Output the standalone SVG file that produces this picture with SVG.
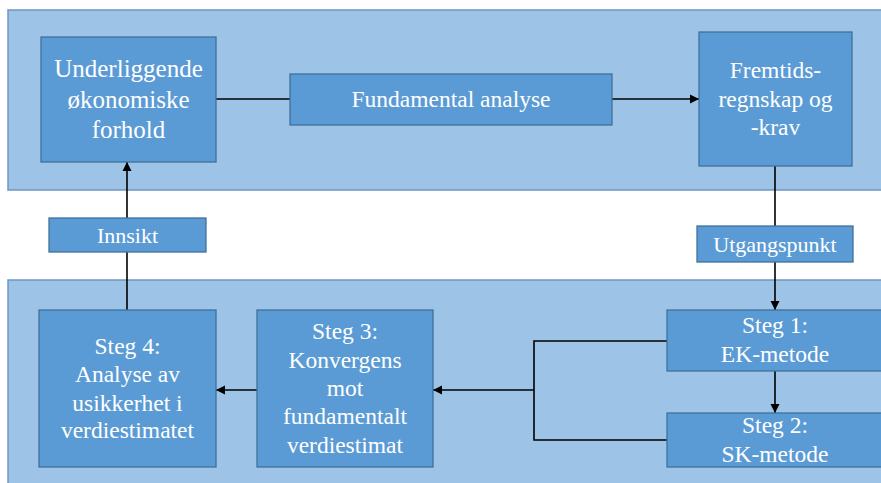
<svg xmlns="http://www.w3.org/2000/svg" width="881" height="483" viewBox="0 0 881 483">
  <defs>
    <marker id="arrow" markerWidth="10" markerHeight="10" refX="9" refY="5" orient="auto" markerUnits="userSpaceOnUse">
      <path d="M0,0.5 L9,5 L0,9.5 Z" fill="#000"/>
    </marker>
    <style>
      .panel { fill: #9DC3E6; stroke: #6F96C4; stroke-width: 1.5; }
      .box { fill: #5B9BD5; stroke: #41719C; stroke-width: 1.3; }
      .txt { fill: #FFFFFF; font-size: 23.5px; text-anchor: middle; }
      .big { font-size: 25px; }
      .lbl { font-size: 22px; }
      .con { fill: none; stroke: #000; stroke-width: 1.6; }
    </style>
  </defs>

  <!-- background panels -->
  <rect class="panel" x="8" y="10" width="880" height="180"/>
  <rect class="panel" x="8" y="280" width="880" height="210"/>

  <!-- connectors -->
  <g id="connectors">
    <line class="con" x1="216" y1="99" x2="290" y2="99"/>
    <line class="con" x1="612" y1="99" x2="699" y2="99" marker-end="url(#arrow)"/>
    <line class="con" x1="775" y1="166" x2="775" y2="226"/>
    <line class="con" x1="775" y1="262" x2="775" y2="310" marker-end="url(#arrow)"/>
    <line class="con" x1="775" y1="371" x2="775" y2="413" marker-end="url(#arrow)"/>
    <polyline class="con" points="667,341 534,341 534,440 667,440"/>
    <line class="con" x1="534" y1="390" x2="433" y2="390" marker-end="url(#arrow)"/>
    <line class="con" x1="257" y1="390" x2="216" y2="390" marker-end="url(#arrow)"/>
    <line class="con" x1="127" y1="310" x2="127" y2="252"/>
    <line class="con" x1="127" y1="218" x2="127" y2="162" marker-end="url(#arrow)"/>
  </g>

  <g font-family="Liberation Serif, Tinos, Times New Roman, DejaVu Serif, serif">
  <g id="underliggende">
    <rect class="box" x="41" y="37" width="175" height="125"/>
    <text class="txt big" x="128.5" y="77">Underliggende</text>
    <text class="txt big" x="128.5" y="108">økonomiske</text>
    <text class="txt big" x="128.5" y="138">forhold</text>
  </g>

  <g id="fundamental">
    <rect class="box" x="290" y="74" width="322" height="51"/>
    <text class="txt" x="451" y="107">Fundamental analyse</text>
  </g>

  <g id="fremtid">
    <rect class="box" x="699" y="32" width="153" height="134"/>
    <text class="txt" x="775.5" y="78">Fremtids-</text>
    <text class="txt" x="775.5" y="107">regnskap og</text>
    <text class="txt" x="775.5" y="135">-krav</text>
  </g>

  <g id="utgangspunkt">
    <rect class="box" x="697" y="226" width="156" height="36"/>
    <text class="txt lbl" x="775" y="252">Utgangspunkt</text>
  </g>

  <g id="innsikt">
    <rect class="box" x="49" y="218" width="157" height="34"/>
    <text class="txt lbl" x="127.5" y="243">Innsikt</text>
  </g>

  <g id="steg1">
    <rect class="box" x="667" y="310" width="216" height="61"/>
    <text class="txt" x="775" y="333">Steg 1:</text>
    <text class="txt" x="775" y="362">EK-metode</text>
  </g>

  <g id="steg2">
    <rect class="box" x="667" y="413" width="216" height="54"/>
    <text class="txt" x="775" y="433">Steg 2:</text>
    <text class="txt" x="775" y="462">SK-metode</text>
  </g>

  <g id="steg3">
    <rect class="box" x="257" y="310" width="176" height="157"/>
    <text class="txt" x="345" y="339">Steg 3:</text>
    <text class="txt" x="345" y="368">Konvergens</text>
    <text class="txt" x="345" y="396">mot</text>
    <text class="txt" x="345" y="424">fundamentalt</text>
    <text class="txt" x="345" y="453">verdiestimat</text>
  </g>

  <g id="steg4">
    <rect class="box" x="39" y="310" width="177" height="157"/>
    <text class="txt" x="127.5" y="354">Steg 4:</text>
    <text class="txt" x="127.5" y="382">Analyse av</text>
    <text class="txt" x="127.5" y="411">usikkerhet i</text>
    <text class="txt" x="127.5" y="438">verdiestimatet</text>
  </g>
  </g>
</svg>
